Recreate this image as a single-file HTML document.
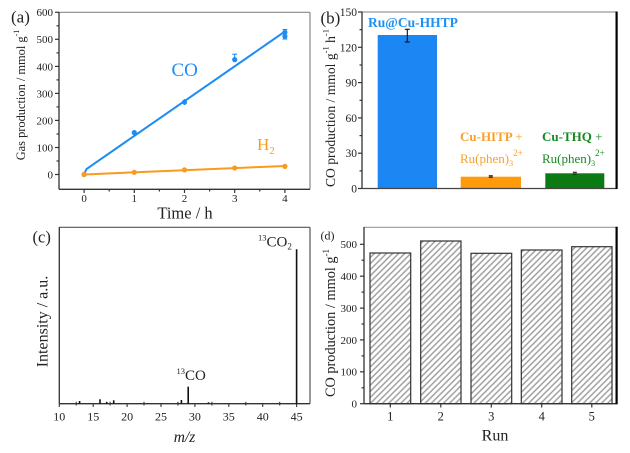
<!DOCTYPE html>
<html><head><meta charset="utf-8"><style>
html,body{margin:0;padding:0;background:#fff;}
svg{display:block;}
text{font-family:"Liberation Serif","Times New Roman",serif;}
</style></head><body>
<svg width="630" height="453" viewBox="0 0 630 453" xmlns="http://www.w3.org/2000/svg">
<defs>
<pattern id="hatch" width="4.3" height="4.3" patternUnits="userSpaceOnUse" patternTransform="rotate(45)">
<rect width="4.3" height="4.3" fill="#fff"/>
<line x1="1" y1="0" x2="1" y2="4.3" stroke="#9a9a9a" stroke-width="1.4"/>
</pattern>
</defs>
<rect width="630" height="453" fill="#fff"/>

<!-- ============ Panel (a) ============ -->
<g>
<line x1="59" y1="12.3" x2="310" y2="12.3" stroke="#8a8a8a" stroke-width="1.2"/>
<line x1="310" y1="12.3" x2="310" y2="189.3" stroke="#8a8a8a" stroke-width="1.2"/>
<line x1="59" y1="12" x2="59" y2="189.3" stroke="#333" stroke-width="1.3"/>
<line x1="59" y1="189.3" x2="310" y2="189.3" stroke="#333" stroke-width="1.3"/>
<g stroke="#333" stroke-width="1.2">
<line x1="55" y1="12.3" x2="59" y2="12.3"/>
<line x1="55" y1="39.3" x2="59" y2="39.3"/>
<line x1="55" y1="66.4" x2="59" y2="66.4"/>
<line x1="55" y1="93.4" x2="59" y2="93.4"/>
<line x1="55" y1="120.4" x2="59" y2="120.4"/>
<line x1="55" y1="147.5" x2="59" y2="147.5"/>
<line x1="55" y1="174.5" x2="59" y2="174.5"/>
<line x1="56.5" y1="25.8" x2="59" y2="25.8"/>
<line x1="56.5" y1="52.9" x2="59" y2="52.9"/>
<line x1="56.5" y1="79.9" x2="59" y2="79.9"/>
<line x1="56.5" y1="106.9" x2="59" y2="106.9"/>
<line x1="56.5" y1="134" x2="59" y2="134"/>
<line x1="56.5" y1="161" x2="59" y2="161"/>
<line x1="84.1" y1="189.3" x2="84.1" y2="193"/>
<line x1="134.3" y1="189.3" x2="134.3" y2="193"/>
<line x1="184.5" y1="189.3" x2="184.5" y2="193"/>
<line x1="234.7" y1="189.3" x2="234.7" y2="193"/>
<line x1="284.9" y1="189.3" x2="284.9" y2="193"/>
<line x1="109.2" y1="189.3" x2="109.2" y2="191.5"/>
<line x1="159.4" y1="189.3" x2="159.4" y2="191.5"/>
<line x1="209.6" y1="189.3" x2="209.6" y2="191.5"/>
<line x1="259.8" y1="189.3" x2="259.8" y2="191.5"/>
</g>
<g font-size="11" fill="#222" text-anchor="end">
<text x="53" y="16.2">600</text>
<text x="53" y="43.2">500</text>
<text x="53" y="70.3">400</text>
<text x="53" y="97.3">300</text>
<text x="53" y="124.3">200</text>
<text x="53" y="151.4">100</text>
<text x="53" y="178.4">0</text>
</g>
<g font-size="11" fill="#222" text-anchor="middle">
<text x="84.1" y="202">0</text>
<text x="134.3" y="202">1</text>
<text x="184.5" y="202">2</text>
<text x="234.7" y="202">3</text>
<text x="284.9" y="202">4</text>
</g>
<text x="185" y="218.5" font-size="16.5" text-anchor="middle" fill="#222">Time / h</text>
<text transform="translate(21,95) rotate(-90)" font-size="12.4" text-anchor="middle" dominant-baseline="central" fill="#222">Gas production / mmol g<tspan baseline-shift="super" font-size="8">-1</tspan></text>
<text x="11" y="22.5" font-size="17" fill="#222">(a)</text>
<polyline points="84.1,174.5 86.5,169 284.9,31.5" fill="none" stroke="#1e8cf5" stroke-width="2"/>
<g fill="#1e8cf5">
<circle cx="84.1" cy="174.5" r="2.6"/>
<circle cx="134.3" cy="132.6" r="2.6"/>
<circle cx="184.5" cy="102.1" r="2.6"/>
<circle cx="234.7" cy="59.6" r="2.6"/>
<circle cx="284.9" cy="36.3" r="2.6"/>
<circle cx="284.9" cy="32.4" r="2.6"/>
</g>
<g stroke="#1e8cf5" stroke-width="1.1">
<line x1="234.7" y1="54.2" x2="234.7" y2="59.6"/>
<line x1="232.3" y1="54.2" x2="237.1" y2="54.2"/>
<line x1="184.5" y1="99" x2="184.5" y2="105"/>
<line x1="134.3" y1="130" x2="134.3" y2="135"/>
<line x1="284.9" y1="29.5" x2="284.9" y2="39"/>
<line x1="282.5" y1="29.5" x2="287.3" y2="29.5"/>
<line x1="282.5" y1="39" x2="287.3" y2="39"/>
</g>
<text x="171.5" y="76" font-size="19" fill="#1e8cf5">CO</text>
<line x1="84.1" y1="174.5" x2="284.9" y2="166" stroke="#fb9a1e" stroke-width="2"/>
<g fill="#fb9a1e">
<circle cx="84.1" cy="174.5" r="2.6"/>
<circle cx="134.3" cy="172.3" r="2.6"/>
<circle cx="184.5" cy="169.9" r="2.6"/>
<circle cx="234.7" cy="168" r="2.6"/>
<circle cx="284.9" cy="166.4" r="2.6"/>
</g>
<text x="257" y="150" font-size="17" fill="#fb9a1e">H<tspan font-size="11" dy="4">2</tspan></text>
</g>

<!-- ============ Panel (b) ============ -->
<g>
<rect x="377.7" y="35" width="59.3" height="153.5" fill="#1c86f2"/>
<rect x="460.7" y="176.7" width="60.3" height="11.8" fill="#ff9a0a"/>
<rect x="545.3" y="173.3" width="59" height="15.2" fill="#0b7a12"/>
<g stroke="#111" stroke-width="1.1">
<line x1="407.3" y1="29.3" x2="407.3" y2="42"/>
<line x1="404.8" y1="29.3" x2="409.8" y2="29.3"/>
<line x1="404.8" y1="42" x2="409.8" y2="42"/>
<line x1="488.8" y1="175.8" x2="492.8" y2="175.8"/>
<line x1="488.8" y1="177.2" x2="492.8" y2="177.2"/>
<line x1="572.8" y1="172.3" x2="576.8" y2="172.3"/>
<line x1="572.8" y1="174" x2="576.8" y2="174"/>
</g>
<line x1="362" y1="12" x2="616" y2="12" stroke="#9a9a9a" stroke-width="1.2"/>
<line x1="362" y1="11.5" x2="362" y2="188.5" stroke="#333" stroke-width="1.3"/>
<line x1="362" y1="188.5" x2="617" y2="188.5" stroke="#444" stroke-width="1.3"/>
<line x1="616.6" y1="11.5" x2="616.6" y2="189" stroke="#000" stroke-width="2.2"/>
<g stroke="#333" stroke-width="1.2">
<line x1="358" y1="12" x2="362" y2="12"/>
<line x1="358" y1="47.3" x2="362" y2="47.3"/>
<line x1="358" y1="82.6" x2="362" y2="82.6"/>
<line x1="358" y1="117.9" x2="362" y2="117.9"/>
<line x1="358" y1="153.2" x2="362" y2="153.2"/>
<line x1="358" y1="188.5" x2="362" y2="188.5"/>
<line x1="359.5" y1="29.7" x2="362" y2="29.7"/>
<line x1="359.5" y1="65" x2="362" y2="65"/>
<line x1="359.5" y1="100.3" x2="362" y2="100.3"/>
<line x1="359.5" y1="135.6" x2="362" y2="135.6"/>
<line x1="359.5" y1="170.9" x2="362" y2="170.9"/>
</g>
<g font-size="11.5" fill="#222" text-anchor="end">
<text x="357" y="16">150</text>
<text x="357" y="51.3">120</text>
<text x="357" y="86.6">90</text>
<text x="357" y="121.9">60</text>
<text x="357" y="157.2">30</text>
<text x="357" y="192.5">0</text>
</g>
<text transform="translate(330.5,108) rotate(-90)" font-size="13.6" text-anchor="middle" dominant-baseline="central" fill="#222">CO production / mmol g<tspan baseline-shift="super" font-size="8.5">-1</tspan> h<tspan baseline-shift="super" font-size="8.5">-1</tspan></text>
<text x="320.5" y="23.5" font-size="17" fill="#222">(b)</text>
<text x="368" y="27" font-size="13.5" font-weight="bold" fill="#2090f0">Ru@Cu-HHTP</text>
<text x="460" y="141" font-size="13" font-weight="bold" fill="#f8a02a">Cu-HITP <tspan font-weight="normal">+</tspan></text>
<text x="460" y="163" font-size="13" fill="#f8a02a">Ru(phen)<tspan font-size="8" dy="3">3</tspan><tspan font-size="9" dy="-10">2+</tspan></text>
<text x="542" y="141" font-size="13" font-weight="bold" fill="#168a22">Cu-THQ <tspan font-weight="normal">+</tspan></text>
<text x="542" y="163" font-size="13" fill="#168a22">Ru(phen)<tspan font-size="8" dy="3">3</tspan><tspan font-size="9" dy="-10">2+</tspan></text>
</g>

<!-- ============ Panel (c) ============ -->
<g>
<line x1="59.3" y1="227.3" x2="310" y2="227.3" stroke="#555" stroke-width="1.2"/>
<line x1="310" y1="227.3" x2="310" y2="403.7" stroke="#555" stroke-width="1.2"/>
<line x1="59.3" y1="227" x2="59.3" y2="403.7" stroke="#333" stroke-width="1.3"/>
<line x1="59.3" y1="403.7" x2="310" y2="403.7" stroke="#333" stroke-width="1.3"/>
<g stroke="#333" stroke-width="1.1">
<line x1="59.3" y1="403.7" x2="59.3" y2="407"/>
<line x1="93.2" y1="403.7" x2="93.2" y2="407"/>
<line x1="127.1" y1="403.7" x2="127.1" y2="407"/>
<line x1="161" y1="403.7" x2="161" y2="407"/>
<line x1="194.9" y1="403.7" x2="194.9" y2="407"/>
<line x1="228.8" y1="403.7" x2="228.8" y2="407"/>
<line x1="262.7" y1="403.7" x2="262.7" y2="407"/>
<line x1="296.6" y1="403.7" x2="296.6" y2="407"/>
<line x1="76.2" y1="401.8" x2="76.2" y2="405.5"/>
<line x1="110.1" y1="401.8" x2="110.1" y2="405.5"/>
<line x1="144" y1="401.8" x2="144" y2="405.5"/>
<line x1="177.9" y1="401.8" x2="177.9" y2="405.5"/>
<line x1="211.9" y1="401.8" x2="211.9" y2="405.5"/>
<line x1="245.8" y1="401.8" x2="245.8" y2="405.5"/>
<line x1="279.7" y1="401.8" x2="279.7" y2="405.5"/>
</g>
<g font-size="12" fill="#222" text-anchor="middle">
<text x="59.3" y="420.5">10</text>
<text x="93.2" y="420.5">15</text>
<text x="127.1" y="420.5">20</text>
<text x="161" y="420.5">25</text>
<text x="194.9" y="420.5">30</text>
<text x="228.8" y="420.5">35</text>
<text x="262.7" y="420.5">40</text>
<text x="296.6" y="420.5">45</text>
</g>
<g stroke="#111" stroke-width="1.6">
<line x1="296.6" y1="249.3" x2="296.6" y2="403.7"/>
<line x1="188.2" y1="386.7" x2="188.2" y2="403.7"/>
<line x1="181.4" y1="400" x2="181.4" y2="403.7"/>
<line x1="79.6" y1="401" x2="79.6" y2="403.7"/>
<line x1="100" y1="399.3" x2="100" y2="403.7"/>
<line x1="106.7" y1="401.8" x2="106.7" y2="403.7"/>
<line x1="113.7" y1="400.3" x2="113.7" y2="403.7"/>
<line x1="208.5" y1="402.3" x2="208.5" y2="403.7"/>
</g>
<text x="258" y="246.7" fill="#222"><tspan font-size="8.5" dy="-6">13</tspan><tspan font-size="15" dy="6">CO</tspan><tspan font-size="9" dy="3">2</tspan></text>
<text x="176.5" y="380" fill="#222"><tspan font-size="8.5" dy="-6">13</tspan><tspan font-size="15" dy="6">CO</tspan></text>
<text x="184.5" y="442" font-size="15.5" font-style="italic" text-anchor="middle" fill="#222">m/z</text>
<text transform="translate(43,321.5) rotate(-90)" font-size="16" text-anchor="middle" dominant-baseline="central" fill="#222">Intensity / a.u.</text>
<text x="32.5" y="242.5" font-size="16.5" fill="#222">(c)</text>
</g>

<!-- ============ Panel (d) ============ -->
<g>
<g stroke="#333" stroke-width="1.2">
<rect x="370" y="253" width="40.7" height="150.7" fill="url(#hatch)"/>
<rect x="420.7" y="241" width="40.3" height="162.7" fill="url(#hatch)"/>
<rect x="471" y="253.3" width="40.7" height="150.4" fill="url(#hatch)"/>
<rect x="521.3" y="250" width="40.7" height="153.7" fill="url(#hatch)"/>
<rect x="571.7" y="246.7" width="40.3" height="157" fill="url(#hatch)"/>
</g>
<line x1="364" y1="227.3" x2="616" y2="227.3" stroke="#9a9a9a" stroke-width="1.2"/>
<line x1="364" y1="227" x2="364" y2="403.7" stroke="#333" stroke-width="1.3"/>
<line x1="364" y1="403.7" x2="617" y2="403.7" stroke="#333" stroke-width="1.3"/>
<line x1="616.6" y1="226.8" x2="616.6" y2="404.2" stroke="#000" stroke-width="2.2"/>
<g stroke="#333" stroke-width="1.2">
<line x1="360" y1="244.3" x2="364" y2="244.3"/>
<line x1="360" y1="276.2" x2="364" y2="276.2"/>
<line x1="360" y1="308.1" x2="364" y2="308.1"/>
<line x1="360" y1="339.9" x2="364" y2="339.9"/>
<line x1="360" y1="371.8" x2="364" y2="371.8"/>
<line x1="360" y1="403.7" x2="364" y2="403.7"/>
<line x1="361.5" y1="260.2" x2="364" y2="260.2"/>
<line x1="361.5" y1="292.1" x2="364" y2="292.1"/>
<line x1="361.5" y1="324" x2="364" y2="324"/>
<line x1="361.5" y1="355.9" x2="364" y2="355.9"/>
<line x1="361.5" y1="387.8" x2="364" y2="387.8"/>
<line x1="390.3" y1="403.7" x2="390.3" y2="407.5"/>
<line x1="440.8" y1="403.7" x2="440.8" y2="407.5"/>
<line x1="491.3" y1="403.7" x2="491.3" y2="407.5"/>
<line x1="541.7" y1="403.7" x2="541.7" y2="407.5"/>
<line x1="591.8" y1="403.7" x2="591.8" y2="407.5"/>
</g>
<g font-size="11" fill="#222" text-anchor="end">
<text x="357" y="248.2">500</text>
<text x="357" y="280.1">400</text>
<text x="357" y="312">300</text>
<text x="357" y="343.8">200</text>
<text x="357" y="375.7">100</text>
<text x="357" y="407.6">0</text>
</g>
<g font-size="12.5" fill="#222" text-anchor="middle">
<text x="390.3" y="420.5">1</text>
<text x="440.8" y="420.5">2</text>
<text x="491.3" y="420.5">3</text>
<text x="541.7" y="420.5">4</text>
<text x="591.8" y="420.5">5</text>
</g>
<text x="495" y="440.5" font-size="16" text-anchor="middle" fill="#222">Run</text>
<text transform="translate(331,323) rotate(-90)" font-size="14.3" text-anchor="middle" dominant-baseline="central" fill="#222">CO production / mmol g<tspan baseline-shift="super" font-size="9">-1</tspan></text>
<text x="320.5" y="239.5" font-size="12" fill="#222">(d)</text>
</g>
</svg>
</body></html>
